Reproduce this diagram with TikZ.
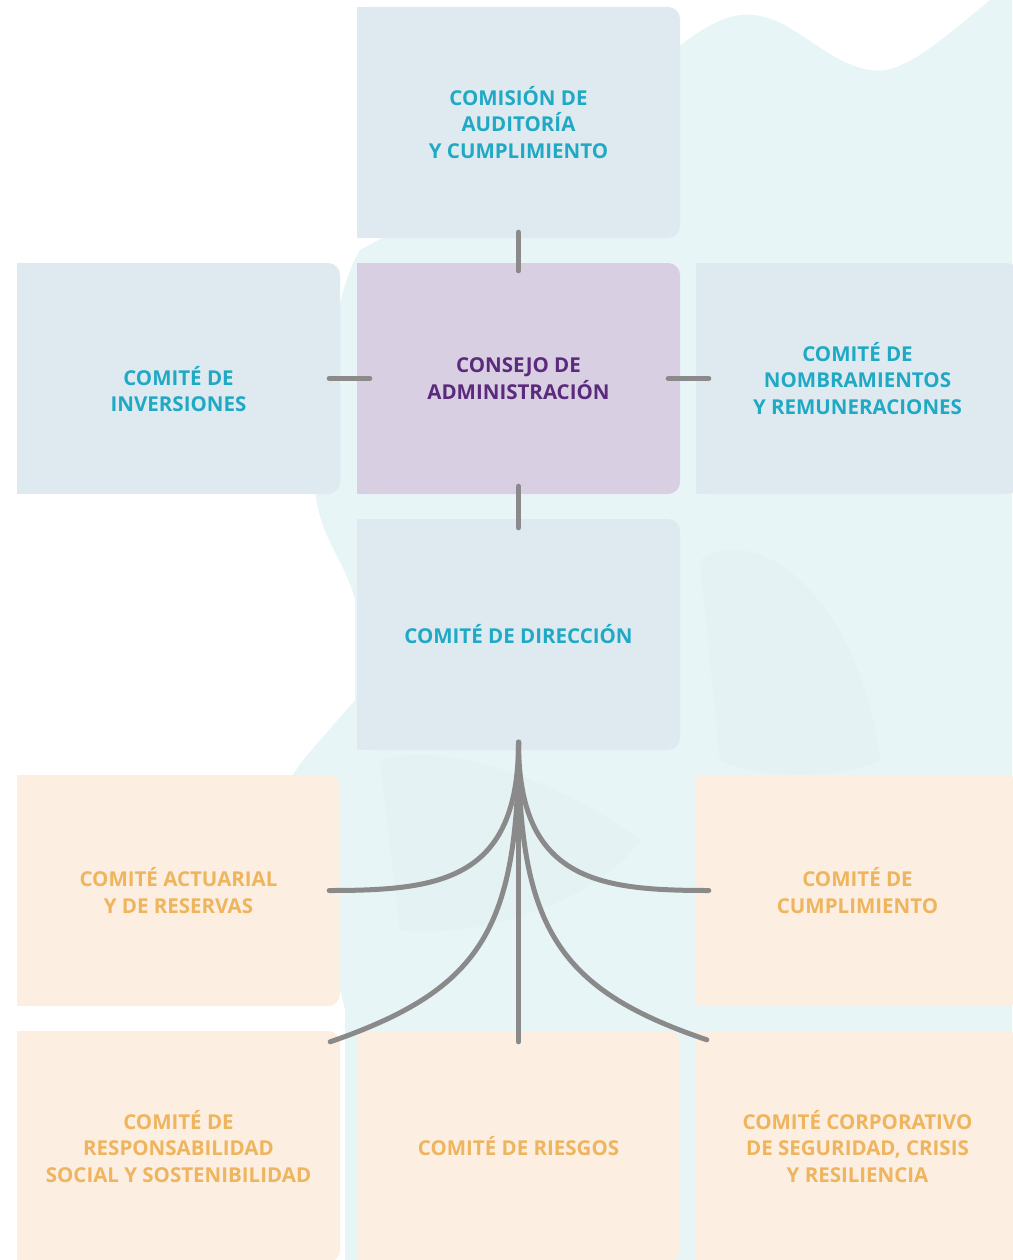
\documentclass[tikz,border=0pt]{standalone}
\usepackage{fontspec}
\setmainfont{Open Sans}
\usetikzlibrary{backgrounds}
\definecolor{boxblue}{HTML}{DFEAF0}
\definecolor{boxlila}{HTML}{D8CFE2}
\definecolor{boxpeach}{HTML}{FCEEE0}
\definecolor{txtblue}{HTML}{1FA9C5}
\definecolor{txtlila}{HTML}{5B2A7C}
\definecolor{txtorange}{HTML}{EFB45E}
\definecolor{linkgray}{HTML}{8A8A8A}
\definecolor{wash}{HTML}{E8F5F7}
\definecolor{washdark}{HTML}{E4F2F4}
\tikzset{
  comite/.style={minimum width=323pt, minimum height=231pt, inner sep=0pt,
    rounded corners=12pt, align=center,
    font=\fontsize{20.5}{26.5}\selectfont\bfseries},
  azul/.style={comite, fill=boxblue, text=txtblue},
  lila/.style={comite, fill=boxlila, text=txtlila},
  crema/.style={comite, fill=boxpeach, text=txtorange},
  enlace/.style={draw=linkgray, line width=5pt, line cap=round,
    preaction={draw=white, line width=8pt}},
}
\begin{document}
\begin{tikzpicture}[x=1pt, y=-1pt]
      \useasboundingbox (0,0) rectangle (1012,1260);
      \node[azul] (auditoria) at (518.5,122.5) {COMISIÓN DE\\AUDITORÍA\\Y CUMPLIMIENTO};
      \node[lila] (consejo) at (518.5,378.5) {CONSEJO DE\\ADMINISTRACIÓN};
      \node[azul, text height=80pt, text depth=14pt] (inversiones) at (178.5,378.5) {COMITÉ DE\\INVERSIONES};
      \node[azul] (nombramientos) at (857.5,378.5) {COMITÉ DE\\NOMBRAMIENTOS\\Y REMUNERACIONES};
      \node[azul] (direccion) at (518.5,634.5) {COMITÉ DE DIRECCIÓN};
      \node[crema] (actuarial) at (178.5,890.5) {COMITÉ ACTUARIAL\\Y DE RESERVAS};
      \node[crema] (cumplimiento) at (857.5,890.5) {COMITÉ DE\\CUMPLIMIENTO};
      \node[crema] (responsabilidad) at (178.5,1146.5) {COMITÉ DE\\RESPONSABILIDAD\\SOCIAL Y SOSTENIBILIDAD};
      \node[crema] (riesgos) at (518.5,1146.5) {COMITÉ DE RIESGOS};
      \node[crema] (corporativo) at (857.5,1146.5) {COMITÉ CORPORATIVO\\DE SEGURIDAD, CRISIS\\Y RESILIENCIA};
      % fondo de acuarela y esquinas rectas
      \begin{scope}[on background layer]
        \fill[wash] (1012,0) -- (990,0) .. controls (930,50) and (900,75) .. (870,70)
          .. controls (820,62) and (790,10) .. (740,15)
          .. controls (700,20) and (650,70) .. (600,120)
          -- (360,250) .. controls (330,300) and (320,420) .. (315,490)
          .. controls (320,540) and (345,560) .. (355,600)
          -- (355,700) .. controls (330,730) and (300,760) .. (290,780)
          -- (345,1010) -- (345,1260) -- (1012,1260) -- cycle;
        \fill[washdark] (700,560) .. controls (760,520) and (860,600) .. (880,760)
          .. controls (840,780) and (760,780) .. (720,760) -- cycle;
        \fill[washdark] (380,760) .. controls (440,740) and (560,780) .. (640,840)
          .. controls (600,900) and (480,940) .. (400,930) -- cycle;
        \fill[boxblue] (auditoria.north west) rectangle (auditoria.south);
        \fill[boxlila] (consejo.north west) rectangle (consejo.south);
        \fill[boxblue] (inversiones.north west) rectangle (inversiones.south);
        \fill[boxblue] (nombramientos.north west) rectangle (nombramientos.south);
        \fill[boxblue] (direccion.north west) rectangle (direccion.south);
        \fill[boxpeach] (actuarial.north west) rectangle (actuarial.south);
        \fill[boxpeach] (cumplimiento.north west) rectangle (cumplimiento.south);
        \fill[boxpeach] (responsabilidad.north west) rectangle (responsabilidad.south);
        \fill[boxpeach] (riesgos.north west) rectangle (riesgos.south);
        \fill[boxpeach] (corporativo.north west) rectangle (corporativo.south);
      \end{scope}
      \begin{scope}[enlace]
        \draw ([yshift=6pt]auditoria.south) to ([yshift=-8pt]consejo.north);
        \draw ([xshift=-11pt]inversiones.east) to ([xshift=13pt]consejo.west);
        \draw ([xshift=-12pt]consejo.east) to ([xshift=13pt]nombramientos.west);
        \draw ([yshift=8pt]consejo.south) to ([yshift=-9pt]direccion.north);
        \draw ([yshift=8pt]direccion.south) .. controls +(0,138) and +(111,0) .. ([xshift=-11pt]actuarial.east);
        \draw ([yshift=8pt]direccion.south) .. controls +(0,138) and +(-111,0) .. ([xshift=13pt]cumplimiento.west);
        \draw ([yshift=8pt]direccion.south) .. controls +(0,188) and +(150,-52) .. ([xshift=-10pt,yshift=-11pt]responsabilidad.north east);
        \draw ([yshift=8pt]direccion.south) .. controls +(0,188) and +(-147,-50) .. ([xshift=11pt,yshift=-9pt]corporativo.north west);
        \draw ([yshift=8pt]direccion.south) to ([yshift=-11pt]riesgos.north);
      \end{scope}
    \end{tikzpicture}
\end{document}
